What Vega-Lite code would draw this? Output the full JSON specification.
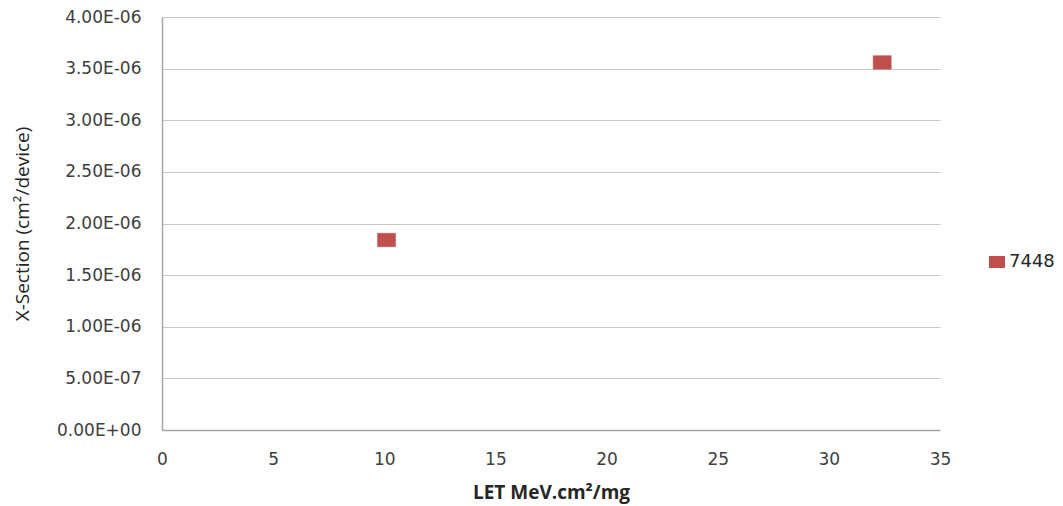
{
  "$schema": "https://vega.github.io/schema/vega-lite/v6.json",
  "autosize": {"type": "none"},
  "width": 778,
  "height": 413,
  "padding": {"left": 162, "top": 17, "right": 123, "bottom": 76},
  "background": "white",
  "data": {"values": [
    {"let": 10.1, "xsection": 1.84e-6, "series": "7448"},
    {"let": 32.4, "xsection": 3.56e-6, "series": "7448"}
  ]},
  "mark": {
    "type": "point",
    "filled": true,
    "opacity": 1,
    "shape": "M-1,-0.75L1,-0.75L1,0.75L-1,0.75Z",
    "size": 324,
    "stroke": "#c0504d",
    "strokeWidth": 0.5
  },
  "encoding": {
    "x": {
      "field": "let",
      "type": "quantitative",
      "scale": {"domain": [0, 35], "nice": false, "zero": true},
      "axis": {
        "title": "LET MeV.cm²/mg",
        "values": [0, 5, 10, 15, 20, 25, 30, 35],
        "grid": false,
        "ticks": false,
        "labelFlush": false,
        "domainColor": "#a6a6a6",
        "domainWidth": 1.5,
        "labelFont": "DejaVu Sans",
        "labelFontSize": 17,
        "labelColor": "#404040",
        "labelPadding": 21,
        "titleFont": "Open Sans",
        "titleFontSize": 19,
        "titleFontWeight": "bold",
        "titleColor": "#262626",
        "titlePadding": 16
      }
    },
    "y": {
      "field": "xsection",
      "type": "quantitative",
      "scale": {"domain": [0, 4e-6], "nice": false},
      "axis": {
        "title": "X-Section (cm²/device)",
        "values": [0, 5e-7, 1e-6, 1.5e-6, 2e-6, 2.5e-6, 3e-6, 3.5e-6, 4e-6],
        "labelExpr": "datum.value == 0 ? '0.00E+00' : (datum.value < 9.9e-7 ? format(datum.value*1e7, '.2f') + 'E-07' : format(datum.value*1e6, '.2f') + 'E-06')",
        "grid": true,
        "gridColor": "#c8c8c8",
        "gridWidth": 1.2,
        "ticks": false,
        "labelFlush": false,
        "domainColor": "#a6a6a6",
        "domainWidth": 1.5,
        "labelFont": "DejaVu Sans",
        "labelFontSize": 17,
        "labelColor": "#404040",
        "labelPadding": 21,
        "titleFont": "Open Sans",
        "titleFontSize": 19,
        "titleFontWeight": "normal",
        "titleColor": "#262626",
        "titlePadding": 24
      }
    },
    "color": {
      "field": "series",
      "type": "nominal",
      "scale": {"range": ["#c0504d"]},
      "legend": {
        "title": null,
        "orient": "none",
        "legendX": 826,
        "legendY": 236,
        "symbolType": "M-1,-0.75L1,-0.75L1,0.75L-1,0.75Z",
        "symbolSize": 256,
        "symbolStrokeWidth": 0,
        "labelFont": "DejaVu Sans",
        "labelFontSize": 18,
        "labelColor": "#262626",
        "labelOffset": 3
      }
    }
  },
  "config": {
    "view": {"stroke": null}
  }
}
